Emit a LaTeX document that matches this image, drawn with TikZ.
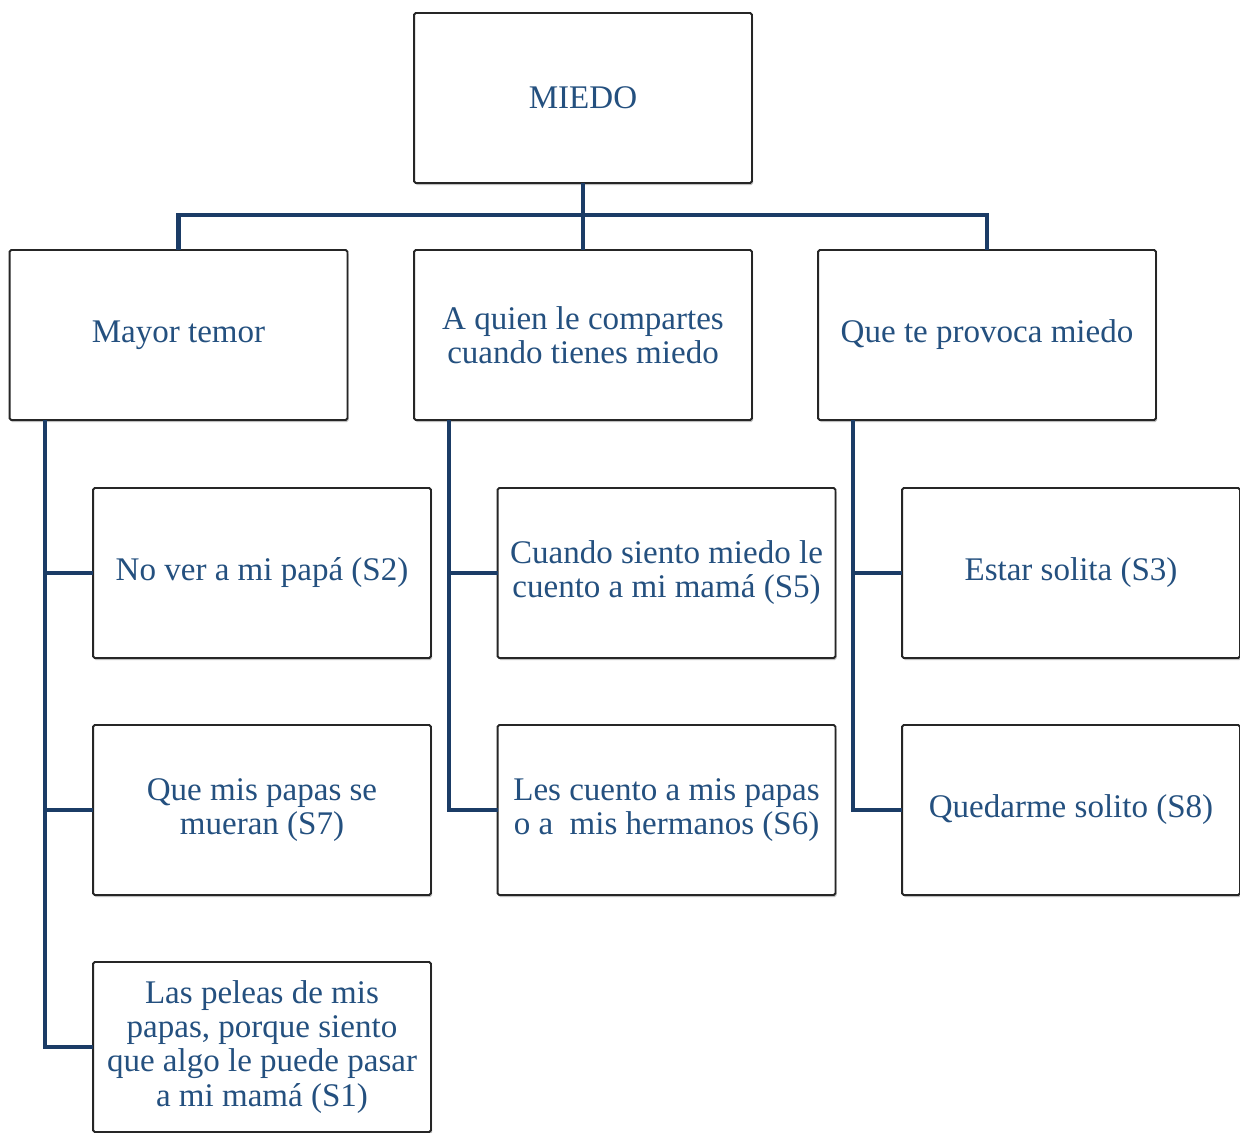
\documentclass[tikz,border=0pt]{standalone}
\usepackage{fontspec}
\setmainfont{Liberation Serif}
\usetikzlibrary{shadows}
\definecolor{textblue}{HTML}{24507F}
\definecolor{lineblue}{HTML}{1B3C66}
\begin{document}
\begin{tikzpicture}[x=0.02cm,y=-0.02cm,
  caja/.style={draw=black!85,line width=1.1pt,rounded corners=1pt,fill=white,
    minimum width=6.76cm,minimum height=3.4cm,inner sep=0pt,outer sep=0pt,
    align=center,text=textblue,font={\fontsize{18.8}{19.4}\selectfont},
    drop shadow={shadow xshift=0.6pt,shadow yshift=-1.2pt,opacity=0.25,fill=black}},
  conn/.style={draw=lineblue,line width=2.6pt}]
\useasboundingbox (0,0) rectangle (1240,1132);
\clip (0,0) rectangle (1240,1132);

\node[caja] (miedo) at (583,98) {MIEDO};

\node[caja] (temor) at (178.5,335) {Mayor temor};
\node[caja] (comparte) at (583,335) {A quien le compartes\\cuando tienes miedo};
\node[caja] (provoca) at (987,335) {Que te provoca miedo};

\node[caja] (s2) at (262,573) {No ver a mi papá (S2)};
\node[caja] (s7) at (262,810) {Que mis papas se\\mueran (S7)};
\node[caja] (s1) at (262,1047) {Las peleas de mis\\papas, porque siento\\que algo le puede pasar\\a mi mamá (S1)};

\node[caja] (s5) at (666.5,573) {Cuando siento miedo le\\cuento a mi mamá (S5)};
\node[caja] (s6) at (666.5,810) {Les cuento a mis papas\\o a~~mis hermanos (S6)};

\node[caja] (s3) at (1071,573) {Estar solita (S3)};
\node[caja] (s8) at (1071,810) {Quedarme solito (S8)};

%---------------------------------
\coordinate (bus) at (583,215);
\draw[conn] (miedo.south) -- (comparte.north);
\draw[conn] (temor.north) |- (bus) -| (provoca.north);

% troncos
\coordinate (ta) at (45,420);
\coordinate (tb) at (449,420);
\coordinate (tc) at (853,420);
\draw[conn] (ta) |- (s1.west);
\draw[conn] (s2.west) -- (s2.west -| ta);
\draw[conn] (s7.west) -- (s7.west -| ta);
\draw[conn] (tb) |- (s6.west);
\draw[conn] (s5.west) -- (s5.west -| tb);
\draw[conn] (tc) |- (s8.west);
\draw[conn] (s3.west) -- (s3.west -| tc);

\end{tikzpicture}
\end{document}
